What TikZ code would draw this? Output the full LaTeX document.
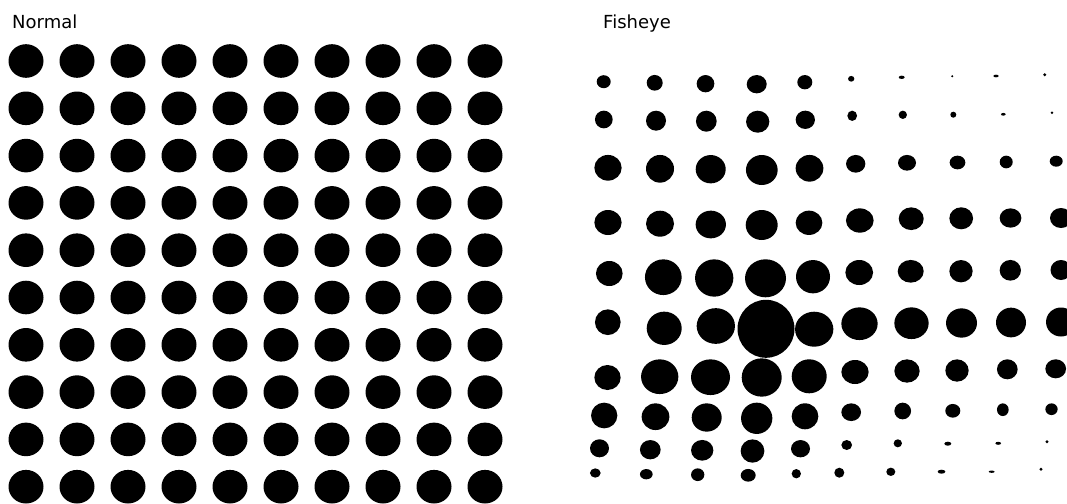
\documentclass[tikz,border=0pt]{standalone}
\usepackage{fontspec}
\setmainfont{DejaVu Sans}
\begin{document}
\begin{tikzpicture}[x=1pt,y=-1pt,
  lbl/.style={anchor=base west,inner sep=0pt,font=\fontsize{18}{20}\selectfont},
  dotfill/.style={fill=black}]
\useasboundingbox (0,0) rectangle (1067,503);
\clip (0,0) rectangle (1067,503);
\fill[white] (0,0) rectangle (1067,503);
\node[lbl] (normal) at (12,29) {Normal};
\node[lbl] (fisheye) at (603,29) {Fisheye};
% normal grid
\foreach \i in {0,...,9}{
  \foreach \j in {0,...,9}{
    \fill[dotfill] ({26+51*\i},{61+47.3*\j}) ellipse [x radius=17.5pt, y radius=16.8pt];
  }
}
% fisheye grid
\foreach \x/\y/\w/\h in {
603.7/81.7/14/13, 654.7/82.8/16/15.7, 705.5/83.7/17.7/17.3, 756.7/84.2/20/18.3, 804.8/82.2/15/14.3,
851.2/78.8/6.3/5.7, 901.7/77.3/6/3.3, 952.2/76.2/2.3/2.3, 996/76/5.3/2.7, 1044.7/74.7/3.3/3.3,
603.8/119.5/17.7/17.7, 656/120.7/20/20, 706.3/121.2/20.7/21, 757.7/121.7/23.3/22, 805.3/119.8/19.3/18.3,
852.2/115.8/9.7/10.3, 902.8/114.8/8.3/8.3, 953.3/114.7/6/6, 1003.3/114.3/4.7/2.7, 1052/112.7/2.7/2.7,
608/167.8/27.3/25.7, 660/168.8/28/27.7, 710.7/169.2/30/28.3, 761.8/170/31.7/30, 809.5/168.3/27.7/26.7,
855.7/163.8/19.3/17.7, 907/162.8/18/15.7, 957.5/162.5/15.7/13.7, 1006.2/162/13/12.7, 1056.2/161.2/13/11,
608/222.5/27.3/25, 660/223.7/28/26, 710.8/224.5/30.3/27.7, 761.7/225/32/30, 809/222.8/26.7/24.3,
859.8/220.5/27.7/24.3, 911.2/218.7/25/22.7, 961.2/218.3/23.7/22, 1010.5/218/21.7/19.3, 1061/218/22/20,
609.3/273.5/26.7/25, 663.3/277.2/36.7/35.7, 714.2/278/38.3/37.3, 765.5/278.3/41/38, 813/276.7/34/33.3,
859.2/272.5/27.7/25, 910.7/271.3/26/22.7, 961/271.2/23.3/22.3, 1010.3/270.3/21.3/20.7, 1061/270/21/20,
607.8/322.2/25.7/25.7, 664.2/328.3/35/33.3, 715.8/326/38.3/35.7, 766/328.8/57/58, 814.2/329.2/38.3/35,
859.5/323.7/36.3/32.7, 911.5/323.2/34.3/31.7, 961.5/323/31/29.3, 1011/322.5/30/29.7, 1061/322/30/29,
607.5/377.5/26.3/25, 659.7/376.7/37.3/34.7, 710.5/377.2/39/35.7, 761.7/377.5/40/38.3, 809.2/376.3/35/34,
855/372/27.3/24, 907/371/25.3/23.3, 957/370.5/23.3/22.3, 1007.3/369.3/20.7/20, 1055.7/368.8/20.7/19,
604.2/415.5/26.3/25.7, 655.5/416.7/27.7/26.7, 706.7/417.5/30/28.3, 756.7/418.3/31.3/31.3, 805/416.3/26.7/26,
851.2/412.2/19.7/17.7, 902.7/411/16.7/16.7, 952.8/410.8/15/13.7, 1002.8/409.7/11.7/12.7, 1051.5/409.2/12.3/11.7,
599.5/448.3/19/18, 650.3/449.7/20.7/19.3, 702.2/450.3/22.3/20.7, 752.5/451/23.7/23.3, 800.5/448.7/19/17.3,
846.7/445/10.7/10, 897.8/443.3/8.3/8, 947.8/443.7/7/4, 998.2/443.3/5.7/3, 1047/441.7/3.3/3.3,
595.3/473/10.7/9.3, 646.3/474.2/12.7/10.3, 697.7/474.7/13.3/12.7, 748.2/475.3/15/12.7, 796.3/473.7/9.3/9.3,
839.3/472.7/10/10, 890.8/471.8/9/8.3, 941.5/471.7/7.7/4, 991.7/471.7/6/2.3, 1041/469.3/3.3/3.3}{
  \fill[dotfill] (\x,\y) ellipse [x radius={\w*0.5pt}, y radius={\h*0.5pt}];
}
\end{tikzpicture}
\end{document}
